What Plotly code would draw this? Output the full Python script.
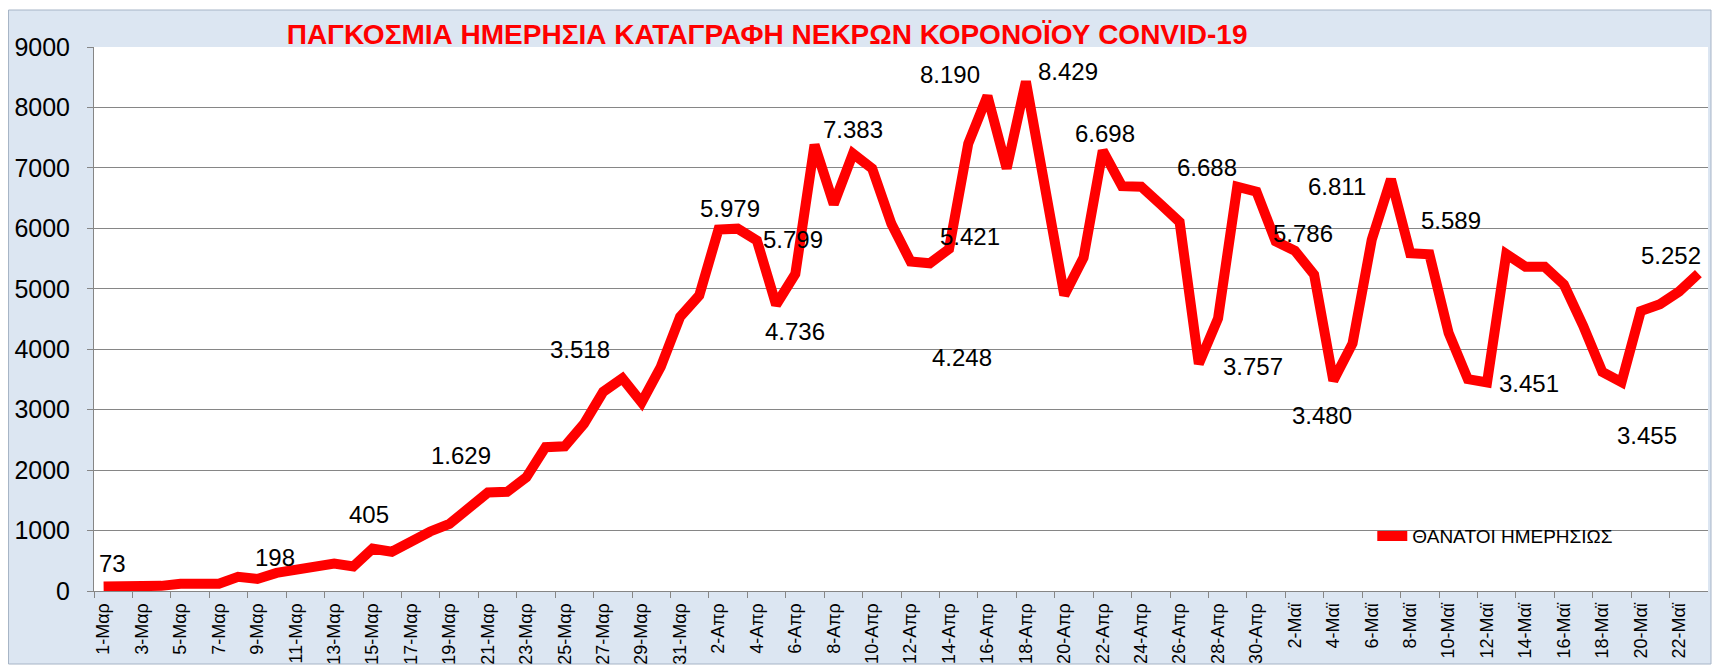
import plotly.graph_objects as go

# ---- data ----
day_index = list(range(84))  # 1-Μαρ ... 23-Μαϊ
tick_labels = ["1-Μαρ", "3-Μαρ", "5-Μαρ", "7-Μαρ", "9-Μαρ", "11-Μαρ", "13-Μαρ", "15-Μαρ",
               "17-Μαρ", "19-Μαρ", "21-Μαρ", "23-Μαρ", "25-Μαρ", "27-Μαρ", "29-Μαρ", "31-Μαρ",
               "2-Απρ", "4-Απρ", "6-Απρ", "8-Απρ", "10-Απρ", "12-Απρ", "14-Απρ", "16-Απρ",
               "18-Απρ", "20-Απρ", "22-Απρ", "24-Απρ", "26-Απρ", "28-Απρ", "30-Απρ",
               "2-Μαϊ", "4-Μαϊ", "6-Μαϊ", "8-Μαϊ", "10-Μαϊ", "12-Μαϊ", "14-Μαϊ", "16-Μαϊ",
               "18-Μαϊ", "20-Μαϊ", "22-Μαϊ"]
deaths = [73, 70, 95, 85, 120, 115, 120, 235, 200, 300,
          340, 385, 455, 405, 700, 650, 830, 985, 1110, 1380,
          1629, 1640, 1880, 2380, 2395, 2765, 3295, 3518, 3120, 3710,
          4535, 4890, 5979, 5995, 5799, 4736, 5245, 7383, 6400, 7235,
          6990, 6075, 5450, 5421, 5660, 7400, 8190, 6990, 8429, 6665,
          4895, 5515, 7285, 6698, 6690, 6400, 6105, 3757, 4510, 6688,
          6605, 5786, 5630, 5235, 3480, 4095, 5810, 6811, 5589, 5570,
          4270, 3505, 3451, 5575, 5365, 5365, 5070, 4390, 3625, 3455,
          4630, 4745, 4955, 5252]
label_text = ["73", "198", "405", "1.629", "3.518", "5.979", "5.799", "4.736", "7.383",
              "8.190", "5.421", "4.248", "8.429", "6.698", "6.688", "3.757", "6.811",
              "5.786", "3.480", "5.589", "3.451", "3.455", "5.252"]
label_x = [0.45, 8.9, 13.8, 18.6, 24.8, 32.6, 35.9, 36.0, 39.0,
           44.05, 45.1, 44.7, 50.2, 52.1, 57.4, 59.8, 64.2,
           62.4, 63.4, 70.1, 74.2, 80.3, 81.6]
label_y = [461, 550, 1271, 2246, 3989, 6324, 5810, 4291, 7642,
           8546, 5857, 3859, 8599, 7571, 7004, 3712, 6700,
           5915, 2902, 6135, 3434, 2571, 5544]
series_name = "ΘΑΝΑΤΟΙ ΗΜΕΡΗΣΙΩΣ"
title_text = "ΠΑΓΚΟΣΜΙΑ ΗΜΕΡΗΣΙΑ ΚΑΤΑΓΡΑΦΗ ΝΕΚΡΩΝ ΚΟΡΟΝΟΪΟΥ CONVID-19"

FONT = "Liberation Sans, Arial, sans-serif"

fig = go.Figure()
fig.add_trace(go.Scatter(
    x=day_index, y=deaths, mode="lines", name=series_name,
    line=dict(color="#ff0000", width=10),
    showlegend=True, hoverinfo="x+y",
))

for t, lx, ly in zip(label_text, label_x, label_y):
    fig.add_annotation(x=lx, y=ly, text=t, showarrow=False,
                       font=dict(family=FONT, size=24, color="#000000"),
                       xanchor="center", yanchor="middle")

tickvals = day_index[::2]
boundaries = [i - 0.5 for i in day_index[::2]]

fig.update_layout(
    width=1718, height=672,
    margin=dict(l=93.5, r=10, t=47, b=81, autoexpand=False),
    paper_bgcolor="#ffffff",
    plot_bgcolor="#ffffff",
    font=dict(family=FONT, color="#000000"),
    title=dict(text="<b>" + title_text + "</b>", x=0.4465, xanchor="center",
               y=1 - 34 / 672, yanchor="middle", yref="container",
               font=dict(family=FONT, size=28, color="#ff0000")),
    xaxis=dict(
        range=[-0.5, 83.5], tickmode="array", tickvals=tickvals, ticktext=tick_labels,
        tickangle=-90, tickfont=dict(size=18, family=FONT, color="#000000"),
        showgrid=False, zeroline=False, showline=True, linecolor="#868686", linewidth=1,
        ticks="", ticklabelstandoff=4, automargin=False,
        minor=dict(tickmode="array", tickvals=boundaries, ticks="outside",
                   ticklen=6, tickcolor="#868686", tickwidth=1, showgrid=False),
    ),
    yaxis=dict(
        range=[0, 9000], dtick=1000, tick0=0, tickformat="d", automargin=False,
        tickfont=dict(size=25, family=FONT, color="#000000"),
        showgrid=True, gridcolor="#868686", gridwidth=1,
        zeroline=False, showline=True, linecolor="#868686", linewidth=1,
        ticks="outside", ticklen=6, tickcolor="#868686", ticklabelstandoff=12,
    ),
    legend=dict(x=0.792, y=0.101, xanchor="left", yanchor="middle",
                bgcolor="rgba(0,0,0,0)", font=dict(size=19, family=FONT, color="#000000"),
                itemwidth=30),
    shapes=[
        dict(type="rect", xref="paper", yref="paper",
             x0=(8 - 93.5) / 1614.5, x1=(1711 - 93.5) / 1614.5,
             y0=(591 - 664) / 544, y1=(591 - 10) / 544,
             fillcolor="#dce6f2", line=dict(color="#a6b4c6", width=1), layer="below"),
        dict(type="rect", xref="paper", yref="paper", x0=0, x1=1, y0=0, y1=1,
             fillcolor="#ffffff", line=dict(width=0), layer="below"),
    ],
)

fig.write_html("out.html")
